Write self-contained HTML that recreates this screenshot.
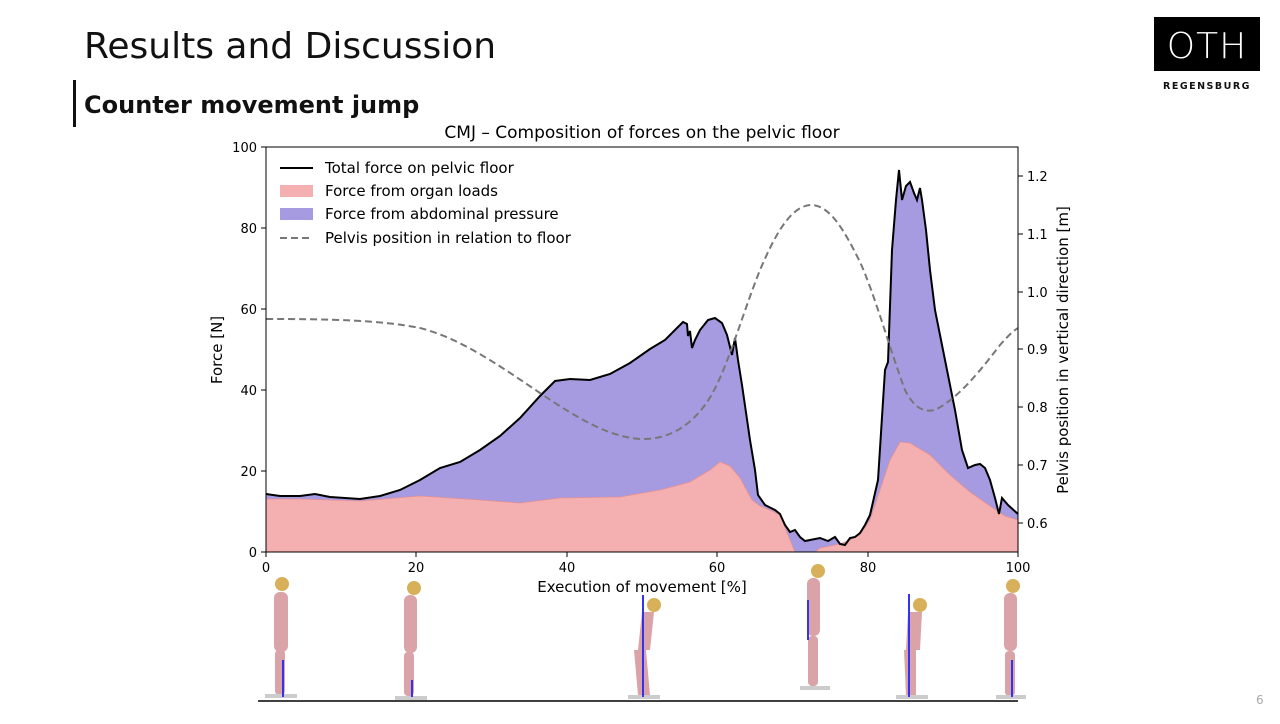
<!DOCTYPE html>
<html><head><meta charset="utf-8"><style>
body{margin:0;width:1280px;height:720px;background:#fff;overflow:hidden;font-family:"DejaVu Sans","Liberation Sans",sans-serif;}
</style></head><body>
<svg width="1280" height="720" viewBox="0 0 1280 720" xmlns="http://www.w3.org/2000/svg" font-family="DejaVu Sans, Liberation Sans, sans-serif">
<text x="84" y="58" font-size="36" fill="#111">Results and Discussion</text>
<rect x="73" y="80" width="3" height="47" fill="#111"/>
<text x="84" y="113" font-size="24" font-weight="bold" fill="#111">Counter movement jump</text>
<rect x="1154" y="17" width="106" height="54" fill="#000"/>
<text x="1207" y="58" font-size="36" fill="#fff" text-anchor="middle" font-weight="200" letter-spacing="1">OTH</text>
<text x="1207" y="89" font-size="9.5" fill="#111" text-anchor="middle" font-weight="bold" letter-spacing="1.5">REGENSBURG</text>
<text x="1256" y="704" font-size="12" fill="#aaa">6</text>
<text x="642" y="138" font-size="17" text-anchor="middle" fill="#000">CMJ – Composition of forces on the pelvic floor</text>

<path fill="#a69be0" d="M266,552 L266,494 280,496 300,496 315,494 330,497 360,499 380,496 400,490 420,480 440,468 460,462 480,450 500,436 520,418 540,396 555,381 570,379 590,380 610,374 630,363 650,349 665,340 680,325 683,322 687,324 688,336 690,331 692,348 695,340 700,330 708,320 715,318 722,323 727,335 732,355 735,338 738,360 742,385 750,440 755,470 758,495 765,505 775,510 780,514 785,525 790,532 795,530 800,537 805,541 820,538 828,541 835,537 840,544 845,545 850,538 855,537 860,533 865,525 870,515 878,480 885,370 888,362 892,250 896,200 899,170 902,200 906,186 910,182 914,193 917,200 920,188 922,200 926,230 930,270 935,310 945,360 955,410 962,450 968,468 975,465 980,464 985,468 990,480 995,498 999,514 1002,498 1008,505 1018,514 L1018,552 Z"/>
<path fill="#f4b0b0" stroke="#e89090" stroke-width="0.8" d="M266,552 L266,499 300,499 360,501 420,496 480,500 520,503 560,498 620,497 660,490 690,482 710,470 720,462 730,466 740,478 752,500 760,506 770,510 780,515 790,540 795,552 815,552 820,548 840,544 850,540 860,535 870,520 880,490 890,460 900,442 910,443 930,455 950,475 970,492 990,506 1005,516 1018,520 L1018,552 Z"/>
<polyline fill="none" stroke="#000" stroke-width="2" points="266,494 280,496 300,496 315,494 330,497 360,499 380,496 400,490 420,480 440,468 460,462 480,450 500,436 520,418 540,396 555,381 570,379 590,380 610,374 630,363 650,349 665,340 680,325 683,322 687,324 688,336 690,331 692,348 695,340 700,330 708,320 715,318 722,323 727,335 732,355 735,338 738,360 742,385 750,440 755,470 758,495 765,505 775,510 780,514 785,525 790,532 795,530 800,537 805,541 820,538 828,541 835,537 840,544 845,545 850,538 855,537 860,533 865,525 870,515 878,480 885,370 888,362 892,250 896,200 899,170 902,200 906,186 910,182 914,193 917,200 920,188 922,200 926,230 930,270 935,310 945,360 955,410 962,450 968,468 975,465 980,464 985,468 990,480 995,498 999,514 1002,498 1008,505 1018,514"/>
<path fill="none" stroke="#777" stroke-width="2" stroke-dasharray="7,4" d="M266,319 C330,319 380,320 420,328 C460,338 500,366 540,393 C580,420 610,437 640,439 C670,440 690,425 705,405 C725,378 740,320 760,270 C775,235 790,207 810,205 C830,204 845,232 860,262 C875,295 890,350 905,390 C915,410 925,412 935,410 C955,400 975,378 1000,345 C1008,336 1013,331 1018,328"/>
<rect x="266" y="147" width="752" height="405" fill="none" stroke="#000" stroke-width="1"/>
<g stroke="#000" stroke-width="1">
<line x1="261" y1="552" x2="266" y2="552"/><line x1="261" y1="471" x2="266" y2="471"/><line x1="261" y1="390" x2="266" y2="390"/><line x1="261" y1="309" x2="266" y2="309"/><line x1="261" y1="228" x2="266" y2="228"/><line x1="261" y1="147" x2="266" y2="147"/>
<line x1="1018" y1="523" x2="1023" y2="523"/><line x1="1018" y1="465" x2="1023" y2="465"/><line x1="1018" y1="407" x2="1023" y2="407"/><line x1="1018" y1="349" x2="1023" y2="349"/><line x1="1018" y1="292" x2="1023" y2="292"/><line x1="1018" y1="234" x2="1023" y2="234"/><line x1="1018" y1="176" x2="1023" y2="176"/>
<line x1="266" y1="552" x2="266" y2="557"/><line x1="416" y1="552" x2="416" y2="557"/><line x1="567" y1="552" x2="567" y2="557"/><line x1="717" y1="552" x2="717" y2="557"/><line x1="868" y1="552" x2="868" y2="557"/><line x1="1018" y1="552" x2="1018" y2="557"/>
</g>
<g font-size="13" fill="#000" text-anchor="end">
<text x="257" y="557">0</text><text x="257" y="476">20</text><text x="257" y="395">40</text><text x="257" y="314">60</text><text x="257" y="233">80</text><text x="257" y="152">100</text>
</g>
<g font-size="13" fill="#000">
<text x="1027" y="528">0.6</text><text x="1027" y="470">0.7</text><text x="1027" y="412">0.8</text><text x="1027" y="354">0.9</text><text x="1027" y="297">1.0</text><text x="1027" y="239">1.1</text><text x="1027" y="181">1.2</text>
</g>
<g font-size="13" fill="#000" text-anchor="middle">
<text x="266" y="572">0</text><text x="416" y="572">20</text><text x="567" y="572">40</text><text x="717" y="572">60</text><text x="868" y="572">80</text><text x="1018" y="572">100</text>
</g>
<text x="642" y="592" font-size="15" text-anchor="middle">Execution of movement [%]</text>
<text transform="translate(222,350) rotate(-90)" font-size="15" text-anchor="middle">Force [N]</text>
<text transform="translate(1068,350) rotate(-90)" font-size="15" text-anchor="middle">Pelvis position in vertical direction [m]</text>
<line x1="280" y1="168" x2="313" y2="168" stroke="#000" stroke-width="2"/>
<rect x="280" y="185" width="33" height="12" fill="#f4b0b0"/>
<rect x="280" y="208" width="33" height="12" fill="#a69be0"/>
<line x1="280" y1="238" x2="313" y2="238" stroke="#777" stroke-width="2" stroke-dasharray="7,4"/>
<g font-size="15" fill="#000">
<text x="325" y="173">Total force on pelvic floor</text>
<text x="325" y="196">Force from organ loads</text>
<text x="325" y="219">Force from abdominal pressure</text>
<text x="325" y="243">Pelvis position in relation to floor</text>
</g>
<line x1="258" y1="701" x2="1018" y2="701" stroke="#000" stroke-width="1.5"/>
<g>
<g transform="translate(280,0)"><circle cx="2" cy="584" r="7" fill="#d9b05a"/><rect x="-6" y="592" width="14" height="60" rx="6" fill="#d9a3a8"/><rect x="-5" y="650" width="10" height="45" rx="4" fill="#d9a3a8"/><rect x="-15" y="694" width="32" height="4" fill="#ccc"/><line x1="3" y1="660" x2="3" y2="697" stroke="#3333ee" stroke-width="2"/></g>
<g transform="translate(410,0)"><circle cx="4" cy="588" r="7" fill="#d9b05a"/><rect x="-6" y="595" width="13" height="58" rx="6" fill="#d9a3a8"/><rect x="-6" y="652" width="10" height="44" rx="4" fill="#d9a3a8"/><rect x="-15" y="696" width="32" height="4" fill="#ccc"/><line x1="2" y1="680" x2="2" y2="697" stroke="#3333ee" stroke-width="2"/></g>
<g transform="translate(640,0)"><circle cx="14" cy="605" r="7" fill="#d9b05a"/><polygon points="2,612 14,612 10,650 -2,650" fill="#d9a3a8"/><polygon points="-6,650 6,650 10,695 -2,695" fill="#d9a3a8"/><rect x="-12" y="695" width="32" height="4" fill="#ccc"/><line x1="3" y1="595" x2="3" y2="697" stroke="#3333ee" stroke-width="2"/></g>
<g transform="translate(812,0)"><circle cx="6" cy="571" r="7" fill="#d9b05a"/><rect x="-5" y="578" width="13" height="58" rx="6" fill="#d9a3a8"/><rect x="-4" y="636" width="10" height="50" rx="4" fill="#d9a3a8"/><rect x="-12" y="686" width="30" height="4" fill="#ccc"/><line x1="-4" y1="600" x2="-4" y2="640" stroke="#3333ee" stroke-width="2"/></g>
<g transform="translate(910,0)"><circle cx="10" cy="605" r="7" fill="#d9b05a"/><polygon points="-2,612 12,612 10,650 -4,650" fill="#d9a3a8"/><polygon points="-6,650 6,650 6,695 -4,695" fill="#d9a3a8"/><rect x="-14" y="695" width="32" height="4" fill="#ccc"/><line x1="-1" y1="594" x2="-1" y2="697" stroke="#3333ee" stroke-width="2"/></g>
<g transform="translate(1010,0)"><circle cx="3" cy="586" r="7" fill="#d9b05a"/><rect x="-6" y="593" width="13" height="58" rx="6" fill="#d9a3a8"/><rect x="-5" y="651" width="10" height="45" rx="4" fill="#d9a3a8"/><rect x="-14" y="695" width="30" height="4" fill="#ccc"/><line x1="2" y1="660" x2="2" y2="697" stroke="#3333ee" stroke-width="2"/></g>
</g>
</svg>
</body></html>
